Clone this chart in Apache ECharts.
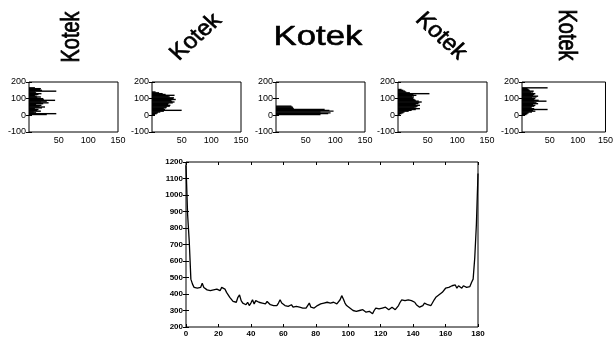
<!DOCTYPE html>
<html>
<head>
<meta charset="utf-8">
<style>
  html, body { margin: 0; padding: 0; background: #fff; }
  #chart { width: 616px; height: 340px; }
</style>
<script src="https://cdn.jsdelivr.net/npm/echarts@6/dist/echarts.min.js"></script>
</head>
<body>
<div id="chart"></div>
<script>
// rotated sample images, left to right
const textLabel = 'Kotek';
const textAngles = [90, 45, 0, -45, -90];

// projection histograms: y bins of 5 units, values start at histStarts[i]
const histYCats = [
  -100, -95, -90, -85, -80, -75, -70, -65, -60, -55, -50, -45, -40, -35, -30, -25, -20, -15, -10, -5,
  0, 5, 10, 15, 20, 25, 30, 35, 40, 45, 50, 55, 60, 65, 70, 75, 80, 85, 90, 95,
  100, 105, 110, 115, 120, 125, 130, 135, 140, 145, 150, 155, 160, 165, 170, 175, 180, 185, 190, 195, 200
];
const histXTicks = [0, 50, 100, 150];
const histStarts = [5, 0, 5, 5, 5];
const profile90 = [30, 46, 12, 8, 20, 14, 16, 10, 22, 27, 18, 21, 12, 24, 33, 20, 30, 44, 25, 24,
  14, 20, 13, 10, 16, 21, 12, 10, 46, 22, 19, 20, 10];
const profile45 = [3, 5, 8, 10, 14, 20, 50, 22, 20, 24, 25, 30, 31, 27, 28, 35, 38, 34, 32, 40,
  36, 37, 30, 28, 38, 23, 18, 12, 6];
const profile0 = [75, 88, 92, 75, 97, 90, 82, 30, 29, 28, 26];
const profileM45 = [3, 6, 9, 11, 18, 23, 30, 37, 28, 31, 33, 37, 30, 34, 36, 40, 35, 30, 28, 26,
  25, 27, 24, 31, 26, 53, 20, 14, 12, 9, 6];
const profileM90 = [8, 10, 12, 18, 24, 20, 46, 22, 16, 18, 22, 24, 20, 29, 26, 22, 44, 30, 22, 24,
  18, 26, 29, 20, 22, 24, 16, 20, 21, 14, 12, 10, 46];
const profiles = [profile90, profile45, profile0, profileM45, profileM90];

// summed projection against angle, 0..180 degrees
const sumProfile = [
  1180, 880, 720, 490, 460, 440, 450, 435, 445, 440,
  465, 440, 430, 425, 430, 420, 430, 425, 420, 430,
  425, 420, 440, 445, 430, 410, 395, 380, 370, 355,
  345, 350, 380, 395, 360, 345, 355, 335, 350, 330,
  345, 365, 340, 360, 355, 350, 355, 345, 350, 340,
  355, 345, 335, 330, 330, 335, 330, 345, 365, 345,
  340, 330, 335, 325, 330, 335, 320, 315, 325, 335,
  320, 315, 315, 320, 315, 325, 345, 320, 330, 315,
  320, 330, 325, 340, 330, 345, 335, 350, 340, 345,
  335, 350, 345, 340, 345, 365, 390, 370, 345, 330,
  320, 315, 305, 300, 310, 295, 290, 300, 295, 305,
  300, 290, 300, 295, 285, 280, 300, 315, 305, 310,
  320, 315, 310, 320, 315, 305, 315, 320, 310, 305,
  310, 330, 350, 365, 370, 360, 370, 365, 375, 360,
  370, 350, 335, 325, 320, 325, 330, 345, 350, 335,
  325, 330, 320, 365, 380, 390, 395, 405, 410, 420,
  435, 430, 440, 445, 450, 440, 455, 435, 450, 445,
  435, 450, 445, 440, 450, 445, 470, 490, 620, 820,
  1130
];

const histLefts = [29, 152, 276, 398, 522];
const textCenters = [[72, 37], [196, 37], [318, 37], [441, 36], [566, 35]];
const textSizes = [20, 22, 28, 22, 20];
const textStretch = [1.3, 1.1, 1.24, 1.1, 1.3];

const font = 'Liberation Sans';
const tick = { inside: true, length: 3, lineStyle: { color: '#000', width: 1 } };
const noLine = { show: false };
const plain = (v) => String(v);

const grids = [];
const xAxes = [];
const yAxes = [];
const series = [];

histLefts.forEach((left, i) => {
  grids.push({ left, top: 82, width: 89, height: 50, show: true, borderColor: '#000', borderWidth: 1 });
  const xBase = {
    gridIndex: i, type: 'value', min: histXTicks[0], max: histXTicks[histXTicks.length - 1],
    interval: 50, axisLine: noLine, axisTick: tick, splitLine: noLine
  };
  xAxes.push({ ...xBase, axisLabel: { color: '#000', fontFamily: font, fontSize: 9, margin: 4, showMinLabel: false, formatter: plain } });
  xAxes.push({ ...xBase, position: 'top', axisLabel: { show: false } });
  const yBase = {
    gridIndex: i, type: 'category', data: histYCats, boundaryGap: false,
    axisLine: noLine, axisTick: { ...tick, interval: 19 }, splitLine: noLine
  };
  yAxes.push({ ...yBase, axisLabel: { color: '#000', fontFamily: font, fontSize: 9, margin: 3, interval: 19 } });
  yAxes.push({ ...yBase, position: 'right', axisLabel: { show: false } });

  const prof = profiles[i];
  const data = histYCats.map((y) => {
    const k = (y - histStarts[i]) / 5;
    return k >= 0 && k < prof.length ? prof[k] : null;
  });
  series.push({
    type: 'bar', xAxisIndex: 2 * i, yAxisIndex: 2 * i, data,
    barWidth: 1.4, itemStyle: { color: '#000' }, silent: true
  });
});

// bottom plot
const b = histLefts.length;
grids.push({ left: 186, top: 162, width: 292, height: 165, show: true, borderColor: '#000', borderWidth: 1 });
const bx = { gridIndex: b, type: 'value', min: 0, max: 180, interval: 20, axisLine: noLine, axisTick: tick, splitLine: noLine };
xAxes.push({ ...bx, axisLabel: { color: '#000', fontFamily: font, fontSize: 8, fontWeight: 'bold', margin: 3, formatter: plain } });
xAxes.push({ ...bx, position: 'top', axisLabel: { show: false } });
const by = { gridIndex: b, type: 'value', min: 200, max: 1200, interval: 100, axisLine: noLine, axisTick: tick, splitLine: noLine };
yAxes.push({ ...by, axisLabel: { color: '#000', fontFamily: font, fontSize: 8, fontWeight: 'bold', margin: 3, formatter: plain } });
yAxes.push({ ...by, position: 'right', axisLabel: { show: false } });
series.push({
  type: 'line', xAxisIndex: 2 * b, yAxisIndex: 2 * b,
  data: sumProfile.map((v, i) => [i, v]),
  showSymbol: false, lineStyle: { color: '#000', width: 1.3 }, silent: true
});

const graphic = textAngles.map((deg, i) => ({
  type: 'group',
  x: textCenters[i][0],
  y: textCenters[i][1],
  scaleX: textStretch[i],
  children: [{
    type: 'text',
    rotation: deg * Math.PI / 180,
    style: {
      text: textLabel,
      font: textSizes[i] + 'px "' + font + '"',
      fill: '#000',
      stroke: '#000',
      lineWidth: 0.6,
      align: 'center',
      verticalAlign: 'middle'
    }
  }]
}));

const chart = echarts.init(document.getElementById('chart'), null, { renderer: 'canvas' });
chart.setOption({
  animation: false,
  backgroundColor: '#fff',
  grid: grids,
  xAxis: xAxes,
  yAxis: yAxes,
  series,
  graphic
});
</script>
</body>
</html>
